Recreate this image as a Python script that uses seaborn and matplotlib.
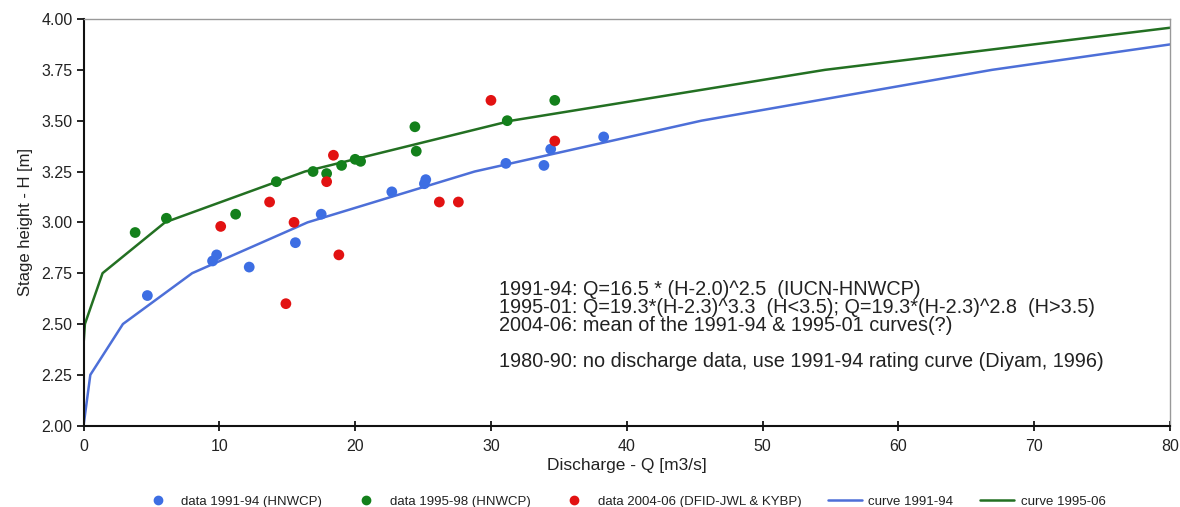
import matplotlib
matplotlib.use("Agg")
import matplotlib.pyplot as plt
import seaborn as sns
import pandas as pd
from matplotlib.lines import Line2D

# ---- data ----
q_9194 = [4.7, 9.5, 9.8, 12.2, 15.6, 17.5, 22.7, 25.1, 25.2, 31.1, 33.9, 34.4, 38.3]
h_9194 = [2.64, 2.81, 2.84, 2.78, 2.90, 3.04, 3.15, 3.19, 3.21, 3.29, 3.28, 3.36, 3.42]

q_9598 = [3.8, 6.1, 11.2, 14.2, 16.9, 17.9, 19.0, 20.0, 20.4, 24.4, 24.5, 31.2, 34.7]
h_9598 = [2.95, 3.02, 3.04, 3.20, 3.25, 3.24, 3.28, 3.31, 3.30, 3.47, 3.35, 3.50, 3.60]

q_0406 = [10.1, 13.7, 14.9, 15.5, 17.9, 18.4, 18.8, 26.2, 27.6, 30.0, 34.7]
h_0406 = [2.98, 3.10, 2.60, 3.00, 3.20, 3.33, 2.84, 3.10, 3.10, 3.60, 3.40]

curve_q_9194 = [0.0, 0.5, 2.9, 8.0, 16.5, 28.8, 45.5, 66.9, 80.0]
curve_h_9194 = [2.00, 2.25, 2.50, 2.75, 3.00, 3.25, 3.50, 3.75, 3.875]

curve_q_9506 = [0.0, 0.1, 1.4, 6.0, 16.3, 31.5, 54.6, 80.0]
curve_h_9506 = [2.40, 2.50, 2.75, 3.00, 3.25, 3.50, 3.75, 3.957]

x_ticks = [0, 10, 20, 30, 40, 50, 60, 70, 80]
y_ticks = [2.00, 2.25, 2.50, 2.75, 3.00, 3.25, 3.50, 3.75, 4.00]

legend_labels = ["data 1991-94 (HNWCP)", "data 1995-98 (HNWCP)",
                 "data 2004-06 (DFID-JWL & KYBP)", "curve 1991-94", "curve 1995-06"]

note_lines = [
    "1991-94: Q=16.5 * (H-2.0)^2.5  (IUCN-HNWCP)",
    "1995-01: Q=19.3*(H-2.3)^3.3  (H<3.5); Q=19.3*(H-2.3)^2.8  (H>3.5)",
    "2004-06: mean of the 1991-94 & 1995-01 curves(?)",
    "",
    "1980-90: no discharge data, use 1991-94 rating curve (Diyam, 1996)",
]

# ---- styling ----
sns.set_theme(style="white")
plt.rcParams['font.family'] = ['Liberation Sans', 'DejaVu Sans']

c_blue_pt = "#3d6ee3"
c_green_pt = "#13801b"
c_red_pt = "#e21212"
c_blue_ln = "#4d6fd8"
c_green_ln = "#237022"

fig = plt.figure(figsize=(11.8, 5.07), dpi=100)
ax = fig.add_axes([0.0708, 0.1604, 0.9207, 0.8021])

pts = pd.concat([
    pd.DataFrame({"Q": q_9194, "H": h_9194, "set": legend_labels[0]}),
    pd.DataFrame({"Q": q_9598, "H": h_9598, "set": legend_labels[1]}),
    pd.DataFrame({"Q": q_0406, "H": h_0406, "set": legend_labels[2]}),
], ignore_index=True)

curves = pd.concat([
    pd.DataFrame({"Q": curve_q_9194, "H": curve_h_9194, "set": legend_labels[3]}),
    pd.DataFrame({"Q": curve_q_9506, "H": curve_h_9506, "set": legend_labels[4]}),
], ignore_index=True)

sns.lineplot(data=curves, x="Q", y="H", hue="set", sort=False, estimator=None,
             palette={legend_labels[3]: c_blue_ln, legend_labels[4]: c_green_ln},
             linewidth=1.8, ax=ax, legend=False, zorder=2)
sns.scatterplot(data=pts, x="Q", y="H", hue="set",
                palette={legend_labels[0]: c_blue_pt, legend_labels[1]: c_green_pt,
                         legend_labels[2]: c_red_pt},
                s=60, edgecolor="none", ax=ax, legend=False, zorder=3)

ax.set_xlim(0, 80)
ax.set_ylim(2.0, 4.0)
ax.set_xticks(x_ticks)
ax.set_xticklabels([str(t) for t in x_ticks])
ax.set_yticks(y_ticks)
ax.set_yticklabels([f"{t:.2f}" for t in y_ticks])
ax.tick_params(axis="x", direction="inout", length=7, width=1.2, labelsize=11.5,
               pad=6, colors="black", labelcolor="#222222")
ax.tick_params(axis="y", direction="out", length=5, width=1.2, labelsize=11.5,
               pad=3, colors="black", labelcolor="#222222")
ax.tick_params(bottom=True, left=True)

for side in ["left", "bottom"]:
    ax.spines[side].set_color("#111111")
    ax.spines[side].set_linewidth(1.5)
for side in ["top", "right"]:
    ax.spines[side].set_color("#999999")
    ax.spines[side].set_linewidth(1.0)

ax.set_xlabel("Discharge - Q [m3/s]", fontsize=12.5, color="#222222", labelpad=3)
ax.set_ylabel("Stage height - H [m]", fontsize=12, color="#222222", labelpad=6)

ax.text(0.3828, 0.357, "\n".join(note_lines), transform=ax.transAxes,
        fontsize=14.3, color="#222222", va="top", ha="left", linespacing=0.93)

handles = [
    Line2D([], [], marker="o", linestyle="none", color=c_blue_pt, markersize=6),
    Line2D([], [], marker="o", linestyle="none", color=c_green_pt, markersize=6),
    Line2D([], [], marker="o", linestyle="none", color=c_red_pt, markersize=6),
    Line2D([], [], color=c_blue_ln, linewidth=1.8),
    Line2D([], [], color=c_green_ln, linewidth=1.8),
]
fig.legend(handles, legend_labels, loc="lower center", bbox_to_anchor=(0.528, -0.025),
           ncol=5, frameon=False, fontsize=9.5, handlelength=2.6, columnspacing=2.0,
           handletextpad=0.5, labelcolor="#222222")

fig.savefig("out.png", dpi=100, facecolor="white")
